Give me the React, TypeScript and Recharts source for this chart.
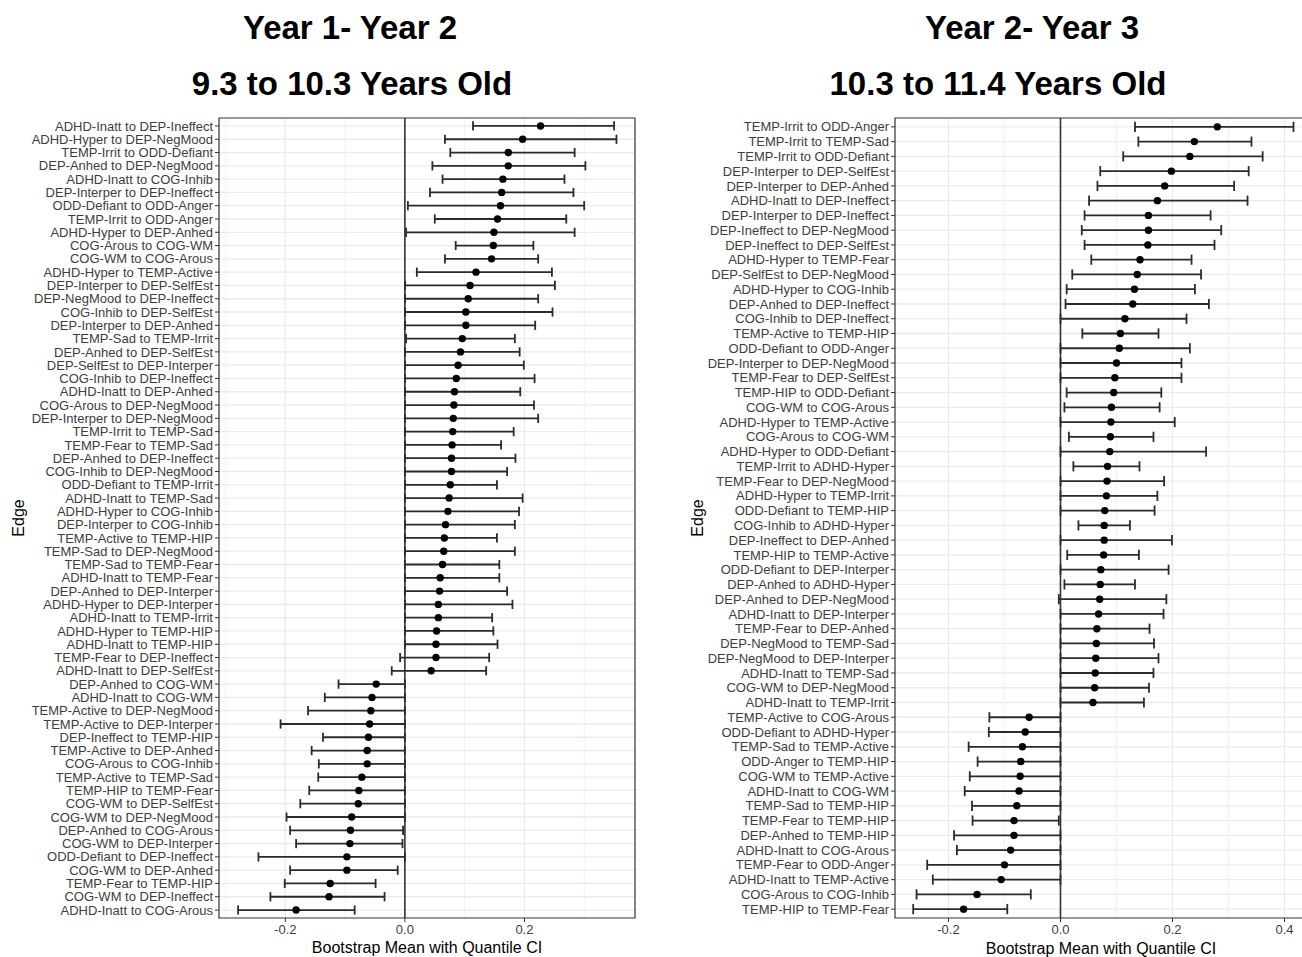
import { CartesianGrid, ErrorBar, ReferenceArea, ReferenceLine, Scatter, ScatterChart, XAxis, YAxis } from "recharts";

const FONT = '"Liberation Sans", Arial, Helvetica, sans-serif';

// Year 1 - Year 2 (9.3 to 10.3 years old)
const edges12 = [
  "ADHD-Inatt to DEP-Ineffect", "ADHD-Hyper to DEP-NegMood", "TEMP-Irrit to ODD-Defiant", "DEP-Anhed to DEP-NegMood",
  "ADHD-Inatt to COG-Inhib", "DEP-Interper to DEP-Ineffect", "ODD-Defiant to ODD-Anger", "TEMP-Irrit to ODD-Anger",
  "ADHD-Hyper to DEP-Anhed", "COG-Arous to COG-WM", "COG-WM to COG-Arous", "ADHD-Hyper to TEMP-Active",
  "DEP-Interper to DEP-SelfEst", "DEP-NegMood to DEP-Ineffect", "COG-Inhib to DEP-SelfEst", "DEP-Interper to DEP-Anhed",
  "TEMP-Sad to TEMP-Irrit", "DEP-Anhed to DEP-SelfEst", "DEP-SelfEst to DEP-Interper", "COG-Inhib to DEP-Ineffect",
  "ADHD-Inatt to DEP-Anhed", "COG-Arous to DEP-NegMood", "DEP-Interper to DEP-NegMood", "TEMP-Irrit to TEMP-Sad",
  "TEMP-Fear to TEMP-Sad", "DEP-Anhed to DEP-Ineffect", "COG-Inhib to DEP-NegMood", "ODD-Defiant to TEMP-Irrit",
  "ADHD-Inatt to TEMP-Sad", "ADHD-Hyper to COG-Inhib", "DEP-Interper to COG-Inhib", "TEMP-Active to TEMP-HIP",
  "TEMP-Sad to DEP-NegMood", "TEMP-Sad to TEMP-Fear", "ADHD-Inatt to TEMP-Fear", "DEP-Anhed to DEP-Interper",
  "ADHD-Hyper to DEP-Interper", "ADHD-Inatt to TEMP-Irrit", "ADHD-Hyper to TEMP-HIP", "ADHD-Inatt to TEMP-HIP",
  "TEMP-Fear to DEP-Ineffect", "ADHD-Inatt to DEP-SelfEst", "DEP-Anhed to COG-WM", "ADHD-Inatt to COG-WM",
  "TEMP-Active to DEP-NegMood", "TEMP-Active to DEP-Interper", "DEP-Ineffect to TEMP-HIP", "TEMP-Active to DEP-Anhed",
  "COG-Arous to COG-Inhib", "TEMP-Active to TEMP-Sad", "TEMP-HIP to TEMP-Fear", "COG-WM to DEP-SelfEst",
  "COG-WM to DEP-NegMood", "DEP-Anhed to COG-Arous", "COG-WM to DEP-Interper", "ODD-Defiant to DEP-Ineffect",
  "COG-WM to DEP-Anhed", "TEMP-Fear to TEMP-HIP", "COG-WM to DEP-Ineffect", "ADHD-Inatt to COG-Arous",
];
const mean12 = [
  0.227, 0.197, 0.173, 0.173, 0.164, 0.162, 0.16, 0.155, 0.149, 0.148, 0.145, 0.119,
  0.109, 0.106, 0.102, 0.102, 0.096, 0.093, 0.089, 0.086, 0.083, 0.082, 0.081, 0.08,
  0.079, 0.078, 0.078, 0.076, 0.074, 0.072, 0.068, 0.066, 0.065, 0.063, 0.059, 0.058,
  0.056, 0.056, 0.053, 0.052, 0.052, 0.044, -0.048, -0.055, -0.057, -0.059, -0.061, -0.063,
  -0.063, -0.072, -0.077, -0.078, -0.089, -0.091, -0.092, -0.097, -0.097, -0.125, -0.127, -0.182,
];
const low12 = [
  0.114, 0.067, 0.076, 0.046, 0.063, 0.042, 0.005, 0.05, 0.002, 0.085, 0.067, 0.02,
  0, 0, 0, 0, 0.002, 0, 0, 0, 0, 0, 0, 0,
  0, 0, 0, 0, 0, 0, 0, 0, 0, 0, 0, 0,
  0, 0, 0, 0, -0.008, -0.022, -0.111, -0.134, -0.162, -0.208, -0.137, -0.156,
  -0.144, -0.145, -0.16, -0.175, -0.198, -0.192, -0.182, -0.245, -0.192, -0.201, -0.225, -0.279,
];
const high12 = [
  0.35, 0.354, 0.284, 0.302, 0.267, 0.282, 0.3, 0.27, 0.284, 0.215, 0.223, 0.246,
  0.251, 0.223, 0.247, 0.218, 0.184, 0.192, 0.199, 0.217, 0.193, 0.216, 0.223, 0.182,
  0.161, 0.185, 0.171, 0.154, 0.197, 0.191, 0.184, 0.154, 0.184, 0.158, 0.158, 0.171,
  0.18, 0.146, 0.148, 0.155, 0.141, 0.136, 0, 0, 0, 0, 0, 0,
  0, 0, 0, 0, 0, -0.003, -0.004, 0, -0.012, -0.049, -0.034, -0.084,
];

// Year 2 - Year 3 (10.3 to 11.4 years old)
const edges23 = [
  "TEMP-Irrit to ODD-Anger", "TEMP-Irrit to TEMP-Sad", "TEMP-Irrit to ODD-Defiant", "DEP-Interper to DEP-SelfEst",
  "DEP-Interper to DEP-Anhed", "ADHD-Inatt to DEP-Ineffect", "DEP-Interper to DEP-Ineffect", "DEP-Ineffect to DEP-NegMood",
  "DEP-Ineffect to DEP-SelfEst", "ADHD-Hyper to TEMP-Fear", "DEP-SelfEst to DEP-NegMood", "ADHD-Hyper to COG-Inhib",
  "DEP-Anhed to DEP-Ineffect", "COG-Inhib to DEP-Ineffect", "TEMP-Active to TEMP-HIP", "ODD-Defiant to ODD-Anger",
  "DEP-Interper to DEP-NegMood", "TEMP-Fear to DEP-SelfEst", "TEMP-HIP to ODD-Defiant", "COG-WM to COG-Arous",
  "ADHD-Hyper to TEMP-Active", "COG-Arous to COG-WM", "ADHD-Hyper to ODD-Defiant", "TEMP-Irrit to ADHD-Hyper",
  "TEMP-Fear to DEP-NegMood", "ADHD-Hyper to TEMP-Irrit", "ODD-Defiant to TEMP-HIP", "COG-Inhib to ADHD-Hyper",
  "DEP-Ineffect to DEP-Anhed", "TEMP-HIP to TEMP-Active", "ODD-Defiant to DEP-Interper", "DEP-Anhed to ADHD-Hyper",
  "DEP-Anhed to DEP-NegMood", "ADHD-Inatt to DEP-Interper", "TEMP-Fear to DEP-Anhed", "DEP-NegMood to TEMP-Sad",
  "DEP-NegMood to DEP-Interper", "ADHD-Inatt to TEMP-Sad", "COG-WM to DEP-NegMood", "ADHD-Inatt to TEMP-Irrit",
  "TEMP-Active to COG-Arous", "ODD-Defiant to ADHD-Hyper", "TEMP-Sad to TEMP-Active", "ODD-Anger to TEMP-HIP",
  "COG-WM to TEMP-Active", "ADHD-Inatt to COG-WM", "TEMP-Sad to TEMP-HIP", "TEMP-Fear to TEMP-HIP",
  "DEP-Anhed to TEMP-HIP", "ADHD-Inatt to COG-Arous", "TEMP-Fear to ODD-Anger", "ADHD-Inatt to TEMP-Active",
  "COG-Arous to COG-Inhib", "TEMP-HIP to TEMP-Fear",
];
const mean23 = [
  0.28, 0.239, 0.231, 0.198, 0.186, 0.173, 0.157, 0.157, 0.156, 0.142, 0.137, 0.132,
  0.129, 0.115, 0.107, 0.105, 0.1, 0.097, 0.095, 0.091, 0.09, 0.089, 0.088, 0.084,
  0.083, 0.082, 0.079, 0.078, 0.078, 0.077, 0.072, 0.071, 0.07, 0.068, 0.065, 0.064,
  0.063, 0.062, 0.061, 0.058, -0.056, -0.063, -0.068, -0.071, -0.072, -0.074, -0.078, -0.083,
  -0.083, -0.089, -0.1, -0.106, -0.149, -0.173,
];
const low23 = [
  0.133, 0.139, 0.112, 0.071, 0.066, 0.051, 0.043, 0.038, 0.043, 0.055, 0.021, 0.011,
  0.009, 0, 0.039, 0, 0, 0, 0.011, 0.007, 0, 0.015, 0, 0.023,
  0, 0, 0, 0.032, 0, 0.012, 0, 0.007, -0.003, 0, 0, 0,
  0, 0, 0, 0, -0.127, -0.128, -0.164, -0.148, -0.162, -0.171, -0.158, -0.157,
  -0.19, -0.185, -0.238, -0.228, -0.257, -0.263,
];
const high23 = [
  0.416, 0.341, 0.361, 0.336, 0.31, 0.334, 0.268, 0.287, 0.275, 0.234, 0.251, 0.24,
  0.265, 0.225, 0.175, 0.231, 0.216, 0.216, 0.18, 0.177, 0.204, 0.166, 0.26, 0.141,
  0.185, 0.173, 0.168, 0.124, 0.199, 0.14, 0.193, 0.133, 0.189, 0.184, 0.159, 0.167,
  0.175, 0.166, 0.158, 0.149, 0, 0, 0, 0, 0, 0, 0, -0.003,
  0, 0, 0, 0, -0.053, -0.095,
];

const xTicks12 = [-0.2, 0, 0.2];
const xMinor12 = [-0.3, -0.1, 0.1, 0.3];
const xTicks23 = [-0.2, 0, 0.2, 0.4];
const xMinor23 = [-0.1, 0.1, 0.3];

type PanelProps = {
  edges: string[];
  mean: number[];
  low: number[];
  high: number[];
  domain: [number, number];
  ticks: number[];
  minor: number[];
  width: number;
  axisWidth: number;
  right: number;
  cap: number;
};

function Panel({ edges, mean, low, high, domain, ticks, minor, width, axisWidth, right, cap }: PanelProps) {
  const n = edges.length;
  const rows = edges.map((_, i) => ({ pos: i + 1, mean: mean[i], err: [mean[i] - low[i], high[i] - mean[i]] }));
  const pos = rows.map((r) => r.pos);
  return (
    <ScatterChart width={width} height={957} margin={{ top: 118, right, bottom: 0, left: 0 }}>
      <CartesianGrid stroke="#ebebeb" strokeWidth={0.7} horizontal={false} verticalValues={minor} />
      <CartesianGrid stroke="#ebebeb" strokeWidth={1.3} horizontalValues={pos} verticalValues={ticks} />
      <XAxis
        type="number"
        dataKey="mean"
        domain={domain}
        allowDataOverflow
        ticks={ticks}
        interval={0}
        height={39}
        tickSize={4}
        tickMargin={3}
        axisLine={false}
        tickLine={{ stroke: "#333" }}
        tick={{ fontSize: 13, fill: "#3d3d3d" }}
        tickFormatter={(v: number) => v.toFixed(1)}
      />
      <YAxis
        type="number"
        dataKey="pos"
        domain={[0.4, n + 0.6]}
        allowDataOverflow
        reversed
        ticks={pos}
        interval={0}
        width={axisWidth}
        tickSize={4}
        tickMargin={2}
        axisLine={false}
        tickLine={{ stroke: "#333" }}
        tick={{ fontSize: 13, fill: "#3d3d3d" }}
        tickFormatter={(v: number) => edges[Math.round(v) - 1] ?? ""}
      />
      <ReferenceLine x={0} stroke="#333" strokeWidth={1.6} />
      <ReferenceArea
        x1={domain[0]}
        x2={domain[1]}
        y1={0.4}
        y2={n + 0.6}
        fill="none"
        stroke="#333"
        strokeWidth={1.2}
        ifOverflow="visible"
      />
      <Scatter
        data={rows}
        isAnimationActive={false}
        shape={(p: any) => <circle cx={p.cx} cy={p.cy} r={3.7} fill="#000" />}
      >
        <ErrorBar dataKey="err" direction="x" width={cap} stroke="#2b2b2b" strokeWidth={1.8} isAnimationActive={false} />
      </Scatter>
    </ScatterChart>
  );
}

export default function App() {
  return (
    <div
      style={{
        position: "absolute",
        left: 0,
        top: 0,
        width: 1302,
        height: 957,
        overflow: "hidden",
        background: "#fff",
        fontFamily: FONT,
      }}
    >
      <div style={{ position: "absolute", left: 0, top: 0 }}>
        <Panel
          edges={edges12}
          mean={mean12}
          low={low12}
          high={high12}
          domain={[-0.311, 0.385]}
          ticks={xTicks12}
          minor={xMinor12}
          width={651}
          axisWidth={219}
          right={16}
          cap={4.6}
        />
      </div>
      <div style={{ position: "absolute", left: 680, top: 0 }}>
        <Panel
          edges={edges23}
          mean={mean23}
          low={low23}
          high={high23}
          domain={[-0.2955, 0.433]}
          ticks={xTicks23}
          minor={xMinor23}
          width={623}
          axisWidth={215}
          right={0}
          cap={5.1}
        />
      </div>
      <svg width={1302} height={957} style={{ position: "absolute", left: 0, top: 0, pointerEvents: "none" }}>
        <g fontFamily={FONT} fill="#000">
          <text x={350} y={39} textAnchor="middle" fontSize={33} fontWeight="bold">Year 1- Year 2</text>
          <text x={352} y={95} textAnchor="middle" fontSize={33} fontWeight="bold">9.3 to 10.3 Years Old</text>
          <text x={1032} y={39} textAnchor="middle" fontSize={33} fontWeight="bold">Year 2- Year 3</text>
          <text x={998} y={95} textAnchor="middle" fontSize={33} fontWeight="bold">10.3 to 11.4 Years Old</text>
          <text x={427} y={953} textAnchor="middle" fontSize={16}>Bootstrap Mean with Quantile CI</text>
          <text x={1101} y={954} textAnchor="middle" fontSize={16}>Bootstrap Mean with Quantile CI</text>
          <text transform="translate(24,518) rotate(-90)" textAnchor="middle" fontSize={16}>Edge</text>
          <text transform="translate(703,518) rotate(-90)" textAnchor="middle" fontSize={16}>Edge</text>
        </g>
      </svg>
    </div>
  );
}
